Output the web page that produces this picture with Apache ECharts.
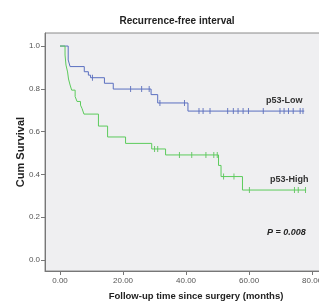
<!DOCTYPE html>
<html>
<head>
<meta charset="utf-8">
<script src="https://cdn.jsdelivr.net/npm/echarts@6/dist/echarts.min.js"></script>
<style>
  html, body { margin: 0; padding: 0; background: #fff; }
  #chart { width: 319px; height: 301px; }
</style>
</head>
<body>
<div id="chart"></div>
<script>
// p53-Low: step times (months) and survival after each step
var lowTimes = [0, 2.6, 3.2, 7.7, 9.0, 9.7, 14.1, 16.9, 28.9, 31.0, 40.6, 77.5];
var lowSurv  = [1.0, 0.935, 0.904, 0.880, 0.864, 0.852, 0.826, 0.799, 0.773, 0.734, 0.696, 0.696];
var lowCensored = [10.3, 22.4, 25.9, 28.3, 31.7, 39.5, 44.1, 45.4, 47.6, 53.2, 55.0, 56.5, 58.1, 59.8, 64.5, 69.8, 71.1, 72.5, 74.0, 76.2, 77.1];

// p53-High
var highTimes = [0, 1.6, 1.9, 2.4, 2.7, 3.2, 3.7, 4.8, 5.4, 6.5, 7.0, 7.6, 12.2, 15.1, 20.8, 29.1, 33.5, 50.3, 51.1, 57.9, 78.1];
var highSurv  = [1.0, 0.958, 0.911, 0.879, 0.846, 0.818, 0.794, 0.764, 0.741, 0.724, 0.708, 0.682, 0.626, 0.575, 0.545, 0.519, 0.491, 0.442, 0.390, 0.327, 0.327];
var highCensored = [30.0, 31.0, 37.9, 41.8, 46.3, 48.8, 49.9, 51.9, 55.2, 60.1, 74.4, 75.6, 77.9];

var xTicks = [0, 20, 40, 60, 80];
var yTicks = [0, 0.2, 0.4, 0.6, 0.8, 1.0];

function pairs(t, s) {
    return t.map(function (v, i) { return [v, s[i]]; });
}
// survival level at a censoring time, read from the step arrays
function censorPoints(cens, t, s) {
    return cens.map(function (c) {
        var v = s[0];
        for (var i = 0; i < t.length; i++) { if (t[i] <= c) v = s[i]; }
        return [c, v];
    });
}

var chart = echarts.init(document.getElementById('chart'));
var labelFont = { color: '#555', fontSize: 8, fontFamily: 'Liberation Sans' };

chart.setOption({
    animation: false,
    title: {
        text: 'Recurrence-free interval',
        left: 172, top: 11, textAlign: 'center',
        textStyle: { fontSize: 10, fontWeight: 'bold', color: '#222', fontFamily: 'Liberation Sans' }
    },
    grid: {
        left: 45, top: 33, right: -1, bottom: 30,
        containLabel: false, outerBoundsMode: 'none',
        show: true, backgroundColor: '#efeff1', borderColor: '#8a8a8a', borderWidth: 1
    },
    xAxis: {
        type: 'value', min: -4.76, max: 82.5,
        axisLine: { show: true, onZero: false, lineStyle: { color: '#777' } },
        splitLine: { show: false },
        axisTick: { show: true, length: 4, customValues: xTicks, lineStyle: { color: '#777' } },
        axisLabel: Object.assign({
            margin: 6, customValues: xTicks,
            formatter: function (v) { return v.toFixed(2); }
        }, labelFont)
    },
    yAxis: {
        type: 'value', min: -0.0514, max: 1.061,
        name: 'Cum Survival', nameLocation: 'middle', nameGap: 19, nameRotate: 90,
        nameMoveOverlap: false,
        nameTextStyle: { fontSize: 11, fontWeight: 'bold', color: '#222', fontFamily: 'Liberation Sans' },
        axisLine: { show: true, onZero: false, lineStyle: { color: '#777' } },
        splitLine: { show: false },
        axisTick: { show: true, length: 4, customValues: yTicks, lineStyle: { color: '#777' } },
        axisLabel: Object.assign({
            margin: 5, customValues: yTicks,
            formatter: function (v) { return v.toFixed(1); }
        }, labelFont)
    },
    series: [
        {
            type: 'line', step: 'end', showSymbol: false,
            data: pairs(lowTimes, lowSurv),
            lineStyle: { color: '#5a6fc0', width: 1 }
        },
        {
            type: 'line', step: 'end', showSymbol: false,
            data: pairs(highTimes, highSurv),
            lineStyle: { color: '#5ccb5c', width: 1 }
        },
        {
            type: 'scatter', symbol: 'rect', symbolSize: [1, 6],
            data: censorPoints(lowCensored, lowTimes, lowSurv),
            itemStyle: { color: '#4a5fb5' }
        },
        {
            type: 'scatter', symbol: 'rect', symbolSize: [1, 6],
            data: censorPoints(highCensored, highTimes, highSurv),
            itemStyle: { color: '#4cbf4c' }
        }
    ],
    graphic: [
        {
            type: 'text', left: 266, top: 96,
            style: { text: 'p53-Low', fontSize: 9, fontWeight: 'bold', fill: '#333', fontFamily: 'Liberation Sans' }
        },
        {
            type: 'text', left: 270, top: 175,
            style: { text: 'p53-High', fontSize: 9, fontWeight: 'bold', fill: '#333', fontFamily: 'Liberation Sans' }
        },
        {
            type: 'text', left: 267, top: 228,
            style: { text: 'P = 0.008', fontSize: 9, fontWeight: 'bold', fontStyle: 'italic', fill: '#222', fontFamily: 'Liberation Sans' }
        },
        {
            type: 'text', x: 196, y: 296,
            style: {
                text: 'Follow-up time since surgery (months)', fontSize: 9.5, fontWeight: 'bold',
                fill: '#222', fontFamily: 'Liberation Sans', align: 'center', verticalAlign: 'middle'
            }
        }
    ]
});
</script>
</body>
</html>
